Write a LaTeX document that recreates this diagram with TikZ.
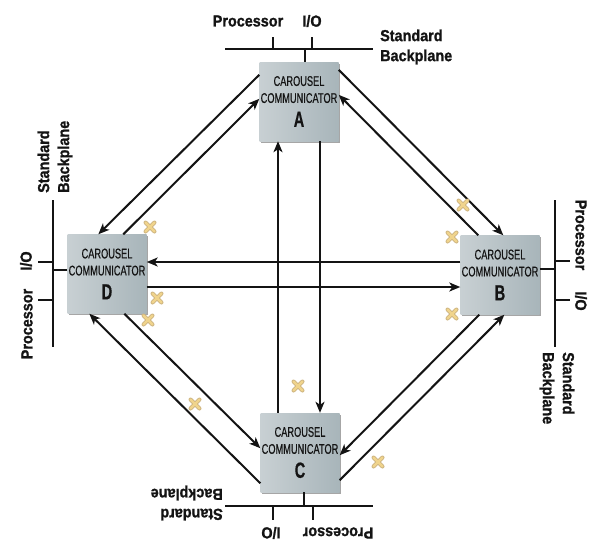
\documentclass[tikz,border=0pt]{standalone}
\usepackage{fontspec}
\setmainfont{Liberation Sans}
\newfontfamily\labelfont[FakeStretch=0.9,FakeBold=1.2]{Liberation Sans}
\newfontfamily\boxfont[FakeStretch=0.66,FakeBold=0.4]{Liberation Sans}
\usetikzlibrary{arrows.meta,calc,shadows}
\definecolor{boxlight}{RGB}{200,208,211}
\definecolor{boxdark}{RGB}{168,181,186}
\definecolor{tanfill}{RGB}{240,212,140}
\definecolor{tanedge}{RGB}{205,180,130}
\definecolor{inkc}{RGB}{20,20,20}
\begin{document}
\begin{tikzpicture}[x=1pt,y=-1pt,
  comm/.style={rectangle, minimum width=79pt, minimum height=79pt, inner sep=0pt,
    left color=boxlight, right color=boxdark, text=inkc,
    drop shadow={shadow xshift=1.5pt, shadow yshift=-1.5pt, fill=black!50, opacity=0.7},
    align=center, font=\boxfont\fontsize{14}{17}\selectfont},
  conn/.style={line width=2pt, draw=inkc},
  arr/.style={conn, -{Stealth[length=11pt,width=9pt,inset=3pt]}},
  bus/.style={line width=2pt, draw=inkc},
  lbl/.style={font=\labelfont\bfseries\fontsize{16}{20}\selectfont, inner sep=0pt, text=inkc},
  xcross/.pic={
    \draw[line width=4pt, draw=tanedge, line cap=round] (-4.5,-4.5) -- (4.5,4.5) (-4.5,4.5) -- (4.5,-4.5);
    \draw[line width=2.4pt, draw=tanfill, line cap=round] (-4.5,-4.5) -- (4.5,4.5) (-4.5,4.5) -- (4.5,-4.5);
  }
]
\useasboundingbox (0,0) rectangle (594,542);

% communicators
\node[comm] (A) at (299,101.5) {CAROUSEL\\COMMUNICATOR\\[7pt]{\fontsize{22}{22}\selectfont\bfseries A}};
\node[comm] (D) at (107,274) {CAROUSEL\\COMMUNICATOR\\[7pt]{\fontsize{22}{22}\selectfont\bfseries D}};
\node[comm] (B) at (500,275) {CAROUSEL\\COMMUNICATOR\\[7pt]{\fontsize{22}{22}\selectfont\bfseries B}};
\node[comm] (C) at (300,452.5) {CAROUSEL\\COMMUNICATOR\\[7pt]{\fontsize{22}{22}\selectfont\bfseries C}};

% vertical pair
\draw[arr] ($(C.north)+(-22,0)$) -- ($(A.south)+(-21,0)$);
\draw[arr] ($(A.south)+(21,0)$) -- ($(C.north)+(20,0)$);
% horizontal pair
\draw[arr] ($(B.west)+(0,-13)$) -- ($(D.east)+(0,-12)$);
\draw[arr] ($(D.east)+(0,13)$) -- ($(B.west)+(0,12)$);
% A - D
\draw[arr] ($(A.north west)+(0,13)$) -- ($(D.north west)+(31,0)$);
\draw[arr] ($(D.north west)+(56,0)$) -- ($(A.north west)+(0,37)$);
% A - B
\draw[arr] ($(A.north east)+(0,8)$) -- ($(B.north west)+(43,0)$);
\draw[arr] ($(B.north west)+(18,0)$) -- ($(A.north east)+(0,33)$);
% D - C
\draw[arr] ($(C.south west)+(0,-9)$) -- ($(D.south west)+(22,0)$);
\draw[arr] ($(D.south west)+(57,0)$) -- ($(C.south west)+(0,-44)$);
% C - B
\draw[arr] ($(C.south east)+(0,-12)$) -- ($(B.south west)+(44,0)$);
\draw[arr] ($(B.south west)+(19,0)$) -- ($(C.south east)+(0,-37)$);

% bus A
\draw[bus] (225,49) -- (373,49);
\draw[bus] ($(A.north)+(6,0)$) -- (305,49);
\draw[bus] (273,49) -- (273,37) (312,49) -- (312,37);
\node[lbl] (pa) at (248,21) {Processor};
\node[lbl] (ia) at (312,21) {I/O};
\node[lbl, anchor=west, align=left] (sa) at (380,47) {Standard\\Backplane};

% bus D
\draw[bus] (53,200) -- (53,347);
\draw[bus] ($(D.west)+(0,-4)$) -- (53,270);
\draw[bus] (53,262) -- (38,262) (53,300) -- (38,300);
\node[lbl, rotate=90] (id) at (26,261) {I/O};
\node[lbl, rotate=90] (pd) at (27,324) {Processor};
\node[lbl, rotate=90, anchor=west, align=left] (sd) at (55,193) {Standard\\Backplane};

% bus B
\draw[bus] (555,200) -- (555,347);
\draw[bus] ($(B.east)+(0,-6)$) -- (555,269);
\draw[bus] (555,261) -- (570,261) (555,300) -- (570,300);
\node[lbl, rotate=-90] (pb) at (581,235) {Processor};
\node[lbl, rotate=-90] (ib) at (581,301) {I/O};
\node[lbl, rotate=-90, anchor=west, align=left] (sb) at (557,352) {Standard\\Backplane};

% bus C
\draw[bus] (225,506) -- (373,506);
\draw[bus] ($(C.south)+(4,0)$) -- (304,506);
\draw[bus] (273,506) -- (273,520) (313,506) -- (313,520);
\node[lbl, rotate=180] (ic) at (271,533) {I/O};
\node[lbl, rotate=180] (pc) at (338,533) {Processor};
\node[lbl, rotate=180, anchor=west, align=left] (sc) at (223,503) {Standard\\Backplane};

% crosses
\foreach \p in {(150,227),(157,298),(148,320),(195,404),(298,386),(378,462),(452,314),(452,237),(463,205)}
  \pic at \p {xcross};
\end{tikzpicture}
\end{document}
